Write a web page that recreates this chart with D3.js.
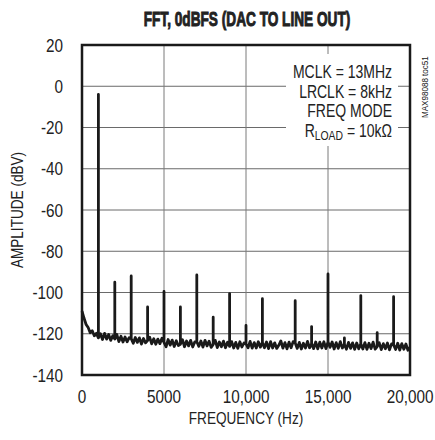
<!DOCTYPE html>
<html>
<head>
<meta charset="utf-8">
<script src="https://cdn.jsdelivr.net/npm/d3@7"></script>
<style>
  body { margin: 0; background: #fff; }
  svg text { font-family: "Liberation Sans", Arial, sans-serif; fill: #222; }
</style>
</head>
<body>
<svg id="chart" width="435" height="440"></svg>
<script>
// noise floor, one value every 125 Hz from 0 to 20,000 Hz
var noiseStep = 125;
var noiseFloor = [
  -109, -112.5, -115.5, -117, -119.5, -118.5, -121, -119.8,
  -122, -120, -122.8, -119.8, -122.6, -120.4, -123.2, -121,
  -122.6, -120.4, -123.8, -121.2, -124, -121.6, -123.9, -121.9,
  -122.4, -124.6, -121.8, -124.2, -122, -125, -122.3, -124.4,
  -123.3, -121.7, -124.9, -122.4, -125.1, -122.6, -124.8, -122.2,
  -124.2, -126.3, -122.8, -125.5, -123.1, -126.2, -123.4, -125.7,
  -125.1, -122.9, -126.3, -123.5, -125.9, -123.2, -126.4, -124,
  -123.9, -126.1, -123.5, -126.5, -123.2, -125.9, -123.6, -126.6,
  -125.2, -123.2, -126.7, -124, -126.3, -123.6, -126.8, -124.1,
  -126.1, -123.8, -126.9, -124.2, -127.1, -123.9, -126.4, -124.5,
  -124.9, -126.8, -123.7, -127, -124.3, -126.9, -123.9, -126.5,
  -124.2, -126.8, -124, -127.2, -123.8, -126.9, -124.4, -127.1,
  -125.6, -123.5, -127, -124.3, -127.3, -124.1, -126.8, -123.8,
  -124.5, -127.1, -124.2, -127.4, -124.6, -126.9, -123.7, -126.8,
  -124.8, -127.2, -124, -127.3, -124.1, -126.9, -123.9, -127.2,
  -123.9, -126.6, -124, -127.4, -124.3, -127.1, -123.8, -126.9,
  -125.1, -127.5, -124.2, -127.1, -124.4, -127.6, -124.5, -127.3,
  -124.9, -127.4, -124.3, -127.6, -124.6, -127.2, -124.1, -127.5,
  -126.2, -124.4, -127.7, -124.8, -127.3, -124.5, -127.8, -124.9,
  -125.4, -127.6, -124.6, -127.9, -124.8, -127.5, -125, -128,
  -126.5
];

// fundamental and harmonic spurs
var peakFreqs = [1000, 2000, 3000, 4000, 5000, 6000, 7000, 8000, 9000, 10000,
                 11000, 13000, 14000, 15000, 16000, 17000, 18000, 19000];
var peakLevels = [-4, -95, -92, -107, -99.5, -107, -91.5, -112, -100.5, -116,
                  -103, -104, -116.5, -91, -122, -101.5, -119.5, -102];

var xTicks = [0, 5000, 10000, 15000, 20000];
var yTicks = [20, 0, -20, -40, -60, -80, -100, -120, -140];
var notes = ["MCLK = 13MHz", "LRCLK = 8kHz", "FREQ MODE"];

var svg = d3.select("#chart");
var plotL = 82, plotR = 410, plotT = 45, plotB = 375;

var x = d3.scaleLinear().domain([0, 20000]).range([plotL, plotR]);
var y = d3.scaleLinear().domain([-140, 20]).range([plotB, plotT]);

// text helper: places text at (px, py), squeezed horizontally by sx
function label(px, py, str, size, anchor, sx, rot) {
    return svg.append("text")
        .attr("transform", "translate(" + px + "," + py + ")" +
              (rot ? " rotate(" + rot + ")" : "") +
              " scale(" + sx + ",1)")
        .attr("text-anchor", anchor)
        .style("font-size", size + "px")
        .text(str);
}

// build the trace: noise points with vertical spikes at the harmonics
var trace = [];
noiseFloor.forEach(function (v, i) {
    var f = i * noiseStep;
    var k = peakFreqs.indexOf(f);
    trace.push([f, v]);
    if (k >= 0) {
        trace.push([f, peakLevels[k]]);
        trace.push([f, v]);
    }
});

// grid
svg.append("g")
    .selectAll("line")
    .data(yTicks.slice(1, -1))
    .enter().append("line")
    .attr("x1", plotL).attr("x2", plotR)
    .attr("y1", d => y(d)).attr("y2", d => y(d))
    .attr("stroke", "#6a6a6a").attr("stroke-width", 1);

svg.append("g")
    .selectAll("line")
    .data(xTicks.slice(1, -1))
    .enter().append("line")
    .attr("x1", d => x(d)).attr("x2", d => x(d))
    .attr("y1", plotT).attr("y2", plotB)
    .attr("stroke", "#7a7a7a").attr("stroke-width", 1);

// white box behind the notes
svg.append("rect")
    .attr("x", 286).attr("y", 54)
    .attr("width", 112).attr("height", 92)
    .attr("fill", "#fff");

// trace
var line = d3.line()
    .x(d => x(d[0]))
    .y(d => y(d[1]));

svg.append("path")
    .datum(trace)
    .attr("d", line)
    .attr("fill", "none")
    .attr("stroke", "#1a1a1a")
    .attr("stroke-width", 2.8)
    .attr("stroke-linejoin", "round");

// frame
svg.append("rect")
    .attr("x", plotL).attr("y", plotT)
    .attr("width", plotR - plotL).attr("height", plotB - plotT)
    .attr("fill", "none")
    .attr("stroke", "#1a1a1a")
    .attr("stroke-width", 2.5);

// tick labels
yTicks.forEach(function (d) {
    label(63, y(d) + 6.5, d, 18, "end", 0.85);
});
xTicks.forEach(function (d) {
    label(x(d), 403, d >= 10000 ? d3.format(",")(d) : d, 18, "middle", 0.85);
});

// axis titles
label(246, 424, "FREQUENCY (Hz)", 17, "middle", 0.8);
label(23, 210, "AMPLITUDE (dBV)", 17, "middle", 0.8, -90);

// title
label(247, 26, "FFT, 0dBFS (DAC TO LINE OUT)", 21, "middle", 0.65)
    .style("font-weight", "bold")
    .attr("stroke", "#222").attr("stroke-width", 1);

// notes
notes.forEach(function (d, i) {
    label(392, 78 + i * 19.7, d, 17.5, "end", 0.8);
});

var rl = label(392, 137, "", 17.5, "end", 0.8);
rl.append("tspan").text("R");
rl.append("tspan").attr("dy", 3).style("font-size", "13px").text("LOAD");
rl.append("tspan").attr("dy", -3).text(" = 10k\u03A9");

// side id
label(428, 118, "MAX98088 toc51", 9.5, "start", 0.85, -90);
</script>
</body>
</html>
